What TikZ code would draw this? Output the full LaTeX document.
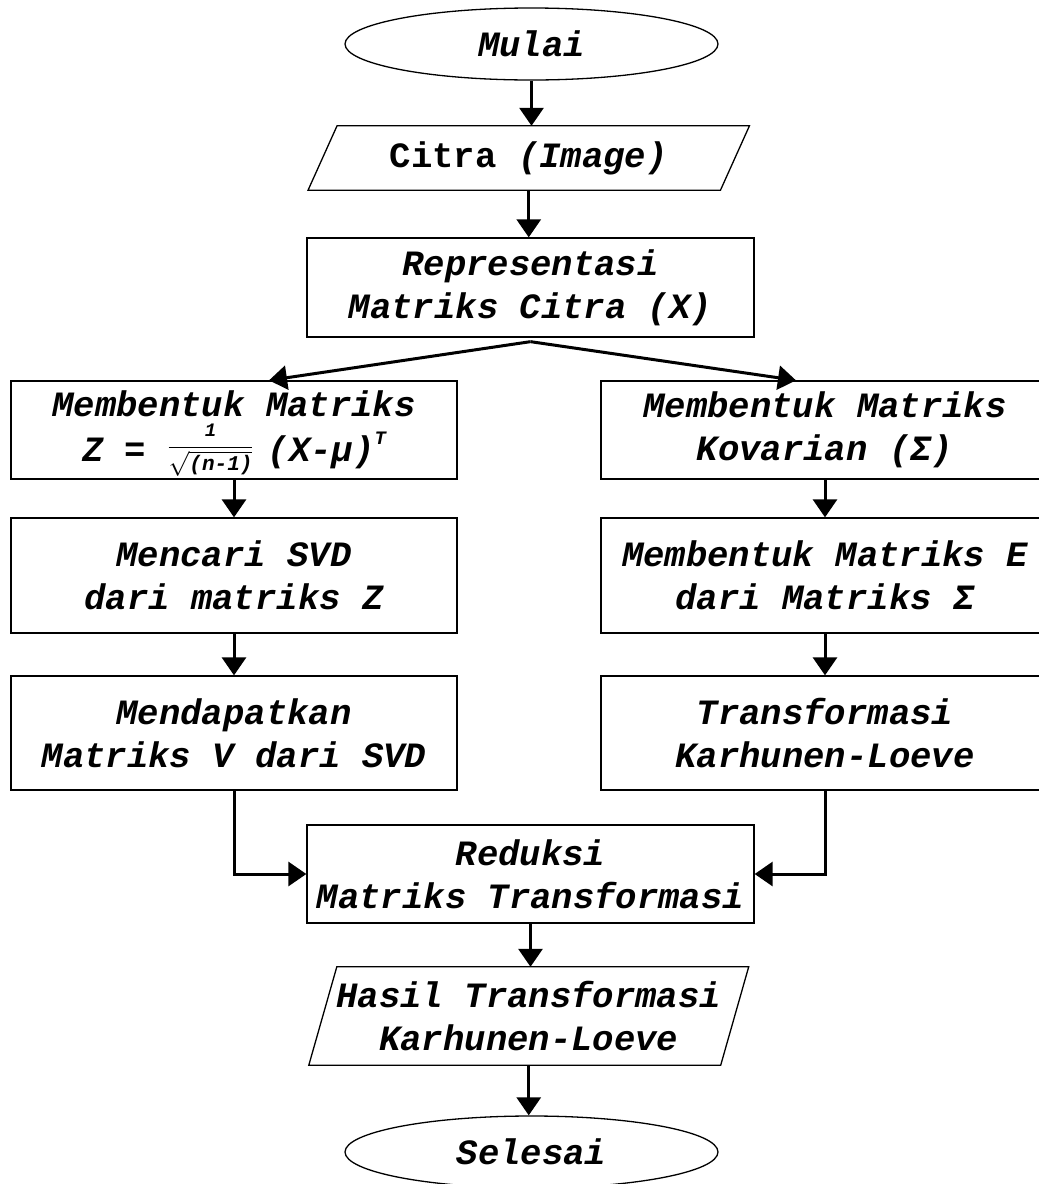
\documentclass[tikz,border=0pt]{standalone}
\usepackage{amsmath}
\usepackage{fontspec}
\newfontfamily\cour{Liberation Mono}
\usetikzlibrary{shapes.geometric,arrows.meta,calc}
\newcommand\txtfont{\fontsize{35.6}{43}\selectfont\cour\bfseries\itshape}
\newcommand\smallcour{\fontsize{21}{21}\selectfont\cour\bfseries\itshape}
\newcommand\tinycour{\fontsize{19}{19}\selectfont\cour\bfseries\itshape}
\begin{document}
\begin{tikzpicture}[x=1pt,y=-1pt,
  box/.style={draw, line width=1.3pt, minimum width=447pt, align=center, inner sep=0pt, font=\txtfont},
  term/.style={draw, ellipse, line width=1.3pt, minimum width=373pt, minimum height=72pt, inner sep=0pt, font=\txtfont},
  iobox/.style={align=center, inner sep=0pt, font=\txtfont},
  arr/.style={line width=3pt, -{Triangle[length=18pt,width=24pt]}},
  edge/.style={line width=1.3pt, line join=miter}
]
\useasboundingbox (0,0) rectangle (1039,1184);

\node[term] (mulai) at (531.5,44) {Mulai};

\node[iobox, minimum width=412pt, minimum height=64pt] (citra) at (528.75,158) {{\upshape Citra} (Image)};
\draw[edge] ($(citra.north west)+(14.5,0)$) -- ($(citra.north east)+(14.5,0)$) -- ($(citra.south east)+(-14.5,0)$) -- ($(citra.south west)+(-14.5,0)$) -- cycle;

\node[box, minimum height=99pt] (repr) at (530.5,287.5) {Representasi\\Matriks Citra (X)};

\node[box, minimum width=446pt, minimum height=98pt] (L1) at (234,430)
  {Membentuk Matriks\\[2pt]Z = \smash{\raisebox{8pt}{$\dfrac{\hbox{\tinycour 1}}{\sqrt{\hbox{\smallcour (n-1)}}}$}}\kern14pt(X-μ)\raisebox{0.9ex}{\tinycour T}};
\node[box, minimum width=448pt, minimum height=98pt] (R1) at (825,430) {Membentuk Matriks\\Kovarian (Σ)};

\node[box, minimum width=446pt, minimum height=115pt] (L2) at (234,575.5) {Mencari SVD\\dari matriks Z};
\node[box, minimum width=448pt, minimum height=115pt] (R2) at (825,575.5) {Membentuk Matriks E\\dari Matriks Σ};

\node[box, minimum width=446pt, minimum height=114pt] (L3) at (234,733) {Mendapatkan\\Matriks V dari SVD};
\node[box, minimum width=448pt, minimum height=114pt] (R3) at (825,733) {Transformasi\\Karhunen-Loeve};

\node[box, minimum height=98pt] (red) at (530.5,874) {Reduksi\\Matriks Transformasi};

\node[iobox, minimum width=411.5pt, minimum height=98pt] (hasil) at (528.75,1016) {Hasil Transformasi\\Karhunen-Loeve};
\draw[edge] ($(hasil.north west)+(14,0)$) -- ($(hasil.north east)+(14,0)$) -- ($(hasil.south east)+(-14,0)$) -- ($(hasil.south west)+(-14,0)$) -- cycle;

\node[term] (selesai) at (531.5,1152) {Selesai};

\draw[arr] (mulai.south) -- (mulai.south |- citra.north);
\draw[arr] (citra.south) -- (citra.south |- repr.north);
\coordinate (sp) at ($(repr.south)+(0,4)$);
\draw[arr] (sp) -- ($(L1.north)+(35,0)$);
\draw[arr] (sp) -- ($(R1.north)+(-29,0)$);
\draw[arr] (L1.south) -- (L2.north);
\draw[arr] (L2.south) -- (L3.north);
\draw[arr] (R1.south) -- (R2.north);
\draw[arr] (R2.south) -- (R3.north);
\draw[arr] (L3.south) |- (red.west);
\draw[arr] (R3.south) |- (red.east);
\draw[arr] (red.south) -- (red.south |- hasil.north);
\draw[arr] (hasil.south) -- (hasil.south |- selesai.north);
\end{tikzpicture}
\end{document}
